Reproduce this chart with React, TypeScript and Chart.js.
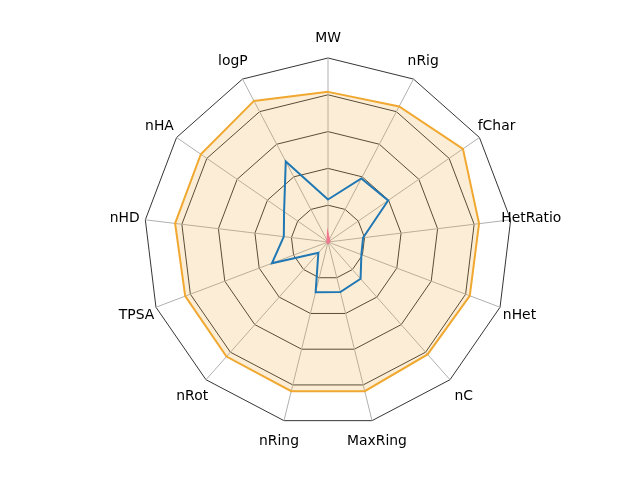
import React, { useEffect, useRef } from "react";
import { Chart, registerables } from "chart.js";

Chart.register(...registerables);

const axisLabels = ["MW", "nRig", "fChar", "HetRatio", "nHet", "nC", "MaxRing", "nRing", "nRot", "TPSA", "nHD", "nHA", "logP"];
const upperValues = [0.816, 0.832, 0.891, 0.827, 0.824, 0.816, 0.835, 0.835, 0.832, 0.83, 0.837, 0.84, 0.866];
const moleculeValues = [0.231, 0.39, 0.397, 0.192, 0.194, 0.267, 0.28, 0.281, 0.079, 0.326, 0.242, 0.29, 0.494];
const lowerValues = [0.033, 0.012, 0.008, 0.003, 0.003, 0.003, 0.003, 0.003, 0.003, 0.003, 0.003, 0.003, 0.003];

const centeredLabels = {
  id: "centeredLabels",
  afterDraw(chart: any) {
    const scale = chart.scales.r;
    const ctx = chart.ctx;
    ctx.save();
    ctx.font = "13.9px 'DejaVu Sans'";
    ctx.fillStyle = "#000";
    ctx.textAlign = "center";
    ctx.textBaseline = "middle";
    const labels = chart.data.labels as string[];
    const dist = scale.drawingArea * 1.113;
    labels.forEach((lab, i) => {
      const p = scale.getPointPosition(i, dist);
      ctx.fillText(lab, p.x, p.y + 1);
    });
    ctx.restore();
  },
};

export default function App() {
  const ref = useRef<HTMLCanvasElement>(null);
  useEffect(() => {
    if (!ref.current) return;
    const chart = new Chart(ref.current, {
      type: "radar",
      data: {
        labels: axisLabels,
        datasets: [
          {
            data: upperValues,
            borderColor: "#f0a830",
            backgroundColor: "rgba(240,168,48,0.2)",
            borderWidth: 2,
            fill: true,
            pointRadius: 0,
            order: 3,
          },
          {
            data: moleculeValues,
            borderColor: "#1f77b4",
            backgroundColor: "transparent",
            borderWidth: 2,
            fill: false,
            pointRadius: 0,
            order: 2,
          },
          {
            data: lowerValues,
            borderColor: "#f07890",
            backgroundColor: "rgba(240,120,144,0.4)",
            borderWidth: 2.5,
            fill: true,
            pointRadius: 0,
            order: 1,
          },
        ],
      },
      options: {
        animation: false,
        responsive: false,
        layout: { padding: { top: 58, bottom: 54, left: 16, right: 0 } },
        plugins: { legend: { display: false }, tooltip: { enabled: false } },
        elements: { line: { tension: 0 } },
        scales: {
          r: {
            min: 0,
            max: 1,
            ticks: { display: false, stepSize: 0.2 },
            grid: { circular: false, color: "#000", lineWidth: 0.8 },
            angleLines: { color: "#b0b0b0", lineWidth: 1 },
            pointLabels: { display: false },
          },
        },
      },
      plugins: [centeredLabels],
    });
    return () => chart.destroy();
  }, []);
  return (
    <div style={{ position: "absolute", left: 0, top: 0, width: 640, height: 480, background: "#fff" }}>
      <canvas ref={ref} width={640} height={480} style={{ width: 640, height: 480 }} />
    </div>
  );
}
